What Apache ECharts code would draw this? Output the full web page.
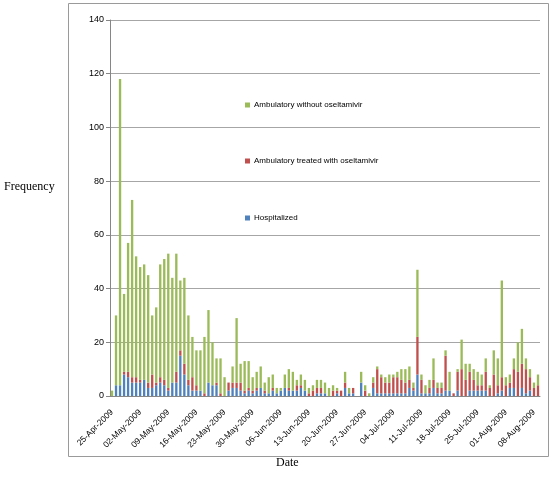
<!DOCTYPE html>
<html><head><meta charset="utf-8">
<script src="https://cdn.jsdelivr.net/npm/echarts@6/dist/echarts.min.js"></script>
<style>html,body{margin:0;padding:0;background:#fff}#c{width:558px;height:498px}</style>
</head><body><div id="c"></div>
<script>
var categories = [
'25-Apr-2009','26-Apr-2009','27-Apr-2009','28-Apr-2009','29-Apr-2009','30-Apr-2009',
'01-May-2009','02-May-2009','03-May-2009','04-May-2009','05-May-2009','06-May-2009','07-May-2009','08-May-2009','09-May-2009','10-May-2009',
'11-May-2009','12-May-2009','13-May-2009','14-May-2009','15-May-2009','16-May-2009','17-May-2009','18-May-2009','19-May-2009','20-May-2009',
'21-May-2009','22-May-2009','23-May-2009','24-May-2009','25-May-2009','26-May-2009','27-May-2009','28-May-2009','29-May-2009','30-May-2009','31-May-2009',
'01-Jun-2009','02-Jun-2009','03-Jun-2009','04-Jun-2009','05-Jun-2009','06-Jun-2009','07-Jun-2009','08-Jun-2009','09-Jun-2009','10-Jun-2009',
'11-Jun-2009','12-Jun-2009','13-Jun-2009','14-Jun-2009','15-Jun-2009','16-Jun-2009','17-Jun-2009','18-Jun-2009','19-Jun-2009','20-Jun-2009',
'21-Jun-2009','22-Jun-2009','23-Jun-2009','24-Jun-2009','25-Jun-2009','26-Jun-2009','27-Jun-2009','28-Jun-2009','29-Jun-2009','30-Jun-2009',
'01-Jul-2009','02-Jul-2009','03-Jul-2009','04-Jul-2009','05-Jul-2009','06-Jul-2009','07-Jul-2009','08-Jul-2009','09-Jul-2009','10-Jul-2009',
'11-Jul-2009','12-Jul-2009','13-Jul-2009','14-Jul-2009','15-Jul-2009','16-Jul-2009','17-Jul-2009','18-Jul-2009','19-Jul-2009','20-Jul-2009',
'21-Jul-2009','22-Jul-2009','23-Jul-2009','24-Jul-2009','25-Jul-2009','26-Jul-2009','27-Jul-2009','28-Jul-2009','29-Jul-2009','30-Jul-2009','31-Jul-2009',
'01-Aug-2009','02-Aug-2009','03-Aug-2009','04-Aug-2009','05-Aug-2009','06-Aug-2009','07-Aug-2009','08-Aug-2009','09-Aug-2009'
];
var hospitalized = [
0,4,4,8,7,5,5,5,6,3,
3,4,5,4,2,5,5,15,8,4,
2,2,2,0,5,4,4,0,0,2,
3,3,2,1,2,1,2,3,1,1,
2,1,2,3,2,2,2,3,2,0,
0,1,1,1,0,0,1,0,3,1,
1,0,5,0,0,3,1,1,1,1,
1,1,1,1,3,2,8,1,1,1,
3,1,1,2,2,0,2,0,0,2,
2,2,2,2,0,0,1,2,0,3,
3,0,3,1,2,0,0];
var treated = [
0,0,0,1,2,2,2,1,0,2,
5,1,2,2,1,0,4,2,4,2,
5,2,0,1,0,0,1,1,0,3,
2,2,3,1,1,1,1,0,1,0,
1,0,0,0,1,0,2,1,0,1,
2,2,2,0,0,2,1,2,2,0,
2,0,0,2,0,2,9,6,4,4,
6,6,5,4,3,1,14,5,0,2,
3,2,2,13,0,1,7,10,6,7,
4,2,2,7,3,8,3,5,4,2,
7,9,9,9,5,3,4];
var without = [
2,26,114,29,48,66,45,42,43,40,
22,28,42,45,50,39,44,26,32,24,
15,13,15,21,27,16,9,13,7,0,
6,24,7,11,10,5,6,8,3,6,
5,2,1,5,7,7,2,4,4,2,
2,3,3,4,3,2,1,0,4,2,
0,0,4,2,1,2,1,1,2,3,
1,2,4,5,5,2,25,2,3,3,
8,2,2,2,7,0,1,11,6,3,
4,5,4,5,1,9,10,36,3,3,
4,11,13,4,3,2,4];
var yTicks = {min: 0, max: 140, interval: 20};
var names = ['Ambulatory without oseltamivir', 'Ambulatory treated with oseltamivir', 'Hospitalized'];
var colors = {hosp: '#4F81BD', treat: '#C0504D', without: '#9BBB59'};

var chart = echarts.init(document.getElementById('c'), null, {renderer: 'canvas'});
var legendBase = {orient: 'vertical', left: 245, icon: 'rect', itemWidth: 5, itemHeight: 5, itemGap: 4,
  textStyle: {fontFamily: 'Liberation Sans', fontSize: 8, color: '#000', padding: [0, 0, 0, -1]}, selectedMode: false, padding: 0};
chart.setOption({
  animation: false,
  backgroundColor: '#fff',
  graphic: [
    {type: 'rect', shape: {x: 68.5, y: 3.5, width: 480, height: 453}, style: {fill: 'none', stroke: '#9a9a9a', lineWidth: 1}, z: -1}
  ],
  title: [
    {text: 'Frequency', left: 4, top: 181, padding: 0, textStyle: {fontFamily: 'Liberation Serif', fontSize: 12, fontWeight: 'normal', color: '#000'}},
    {text: 'Date', left: 276, top: 457, padding: 0, textStyle: {fontFamily: 'Liberation Serif', fontSize: 12, fontWeight: 'normal', color: '#000'}}
  ],
  legend: [
    Object.assign({}, legendBase, {top: 101, data: [names[0]]}),
    Object.assign({}, legendBase, {top: 157, data: [names[1]]}),
    Object.assign({}, legendBase, {top: 214, data: [names[2]]})
  ],
  grid: {left: 110, top: 20, width: 430, height: 376, containLabel: false},
  xAxis: {
    type: 'category', data: categories, boundaryGap: true,
    axisLine: {lineStyle: {color: '#868686'}},
    axisTick: {interval: 6, length: 4, lineStyle: {color: '#868686'}},
    axisLabel: {interval: 6, rotate: 45, fontFamily: 'Liberation Sans', fontSize: 8.5, color: '#000', margin: 15}
  },
  yAxis: {
    type: 'value', min: yTicks.min, max: yTicks.max, interval: yTicks.interval,
    axisLine: {show: true, lineStyle: {color: '#868686'}},
    axisTick: {show: true, length: 4, lineStyle: {color: '#868686'}},
    splitLine: {lineStyle: {color: '#a6a6a6'}},
    axisLabel: {fontFamily: 'Liberation Sans', fontSize: 9, color: '#000', margin: 6}
  },
  series: [
    {name: names[2], type: 'bar', stack: 's', data: hospitalized, itemStyle: {color: colors.hosp}, barCategoryGap: '42%'},
    {name: names[1], type: 'bar', stack: 's', data: treated, itemStyle: {color: colors.treat}},
    {name: names[0], type: 'bar', stack: 's', data: without, itemStyle: {color: colors.without}}
  ]
});
</script></body></html>
